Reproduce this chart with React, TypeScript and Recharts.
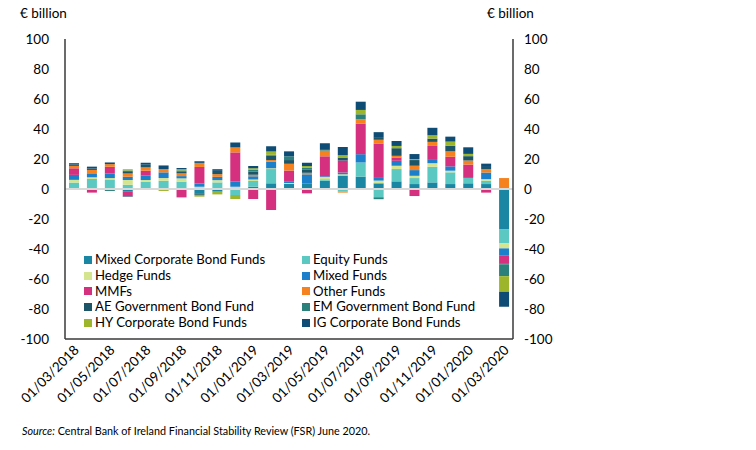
import { BarChart, Bar, Line, XAxis, YAxis, ReferenceLine } from "recharts";

const months = [
  "01/03/2018", "01/04/2018", "01/05/2018", "01/06/2018", "01/07/2018",
  "01/08/2018", "01/09/2018", "01/10/2018", "01/11/2018", "01/12/2018",
  "01/01/2019", "01/02/2019", "01/03/2019", "01/04/2019", "01/05/2019",
  "01/06/2019", "01/07/2019", "01/08/2019", "01/09/2019", "01/10/2019",
  "01/11/2019", "01/12/2019", "01/01/2020", "01/02/2020", "01/03/2020",
];

// € billion, monthly flows by fund type
const mixedCorporate = [0.5, 0, 0, -1.8, 0, 0, 0.5, -2.9, -1.8, 0.5, 1.5, 3.8, 3.5, 3.8, 5.5, 9, 8.2, 3.8, 5.1, 3.3, 4.4, 3.3, 3.8, 3.3, -26.7];
const equity = [3.8, 6.7, 6, 2.9, 4.9, 5.5, 4.4, 0, 4.4, -4, 3.8, 9.5, 0, 0, 1, -1.8, 9.5, -5.5, 8.2, 4, 10.4, 7.8, 3.6, 2.2, -9.6];
const hedge = [1.8, 1.1, 1.3, 3.1, 1.1, 1.8, 2.2, 1.5, 1.5, 1, 1, 0.5, 0.5, 0, 1.5, 0.8, 0, 1.8, 2.2, 1.5, 2.4, 1.1, 0, 1.1, -3.3];
const mixed = [3.3, 2.2, 3.1, 2.2, 2.9, 3.8, 1.5, 2.2, 2.2, 3.6, 2.2, 4.5, 0.8, 6, 0.5, 1.2, 5.5, 1.8, 3.3, 3.8, 2.2, 2.9, 0, 4.4, -4.9];
const mmfs = [4.4, -2.4, 4.4, -3.1, 3.3, 0, -5.6, 11, 0, 19.3, -6.7, -14, 7.5, -2.9, 13.3, 8, 20.4, 22.7, 2.2, -4.7, 9.3, 6.4, 8.9, -2.4, -5.1];
const other = [1.6, 2.7, 1.8, 2.2, 2.2, 2.2, 1.8, 2.7, 1.8, 3.3, 1, 1, 4.5, 1, 3.8, -0.6, 2.9, 2.7, 1.1, 2.9, 2.7, 3.6, 2.7, 2.2, 7.3];
const aeGov = [1, 1, 0, 1, 1.8, 0, 1, -1, 2.2, 0, 2.2, 3, 2.5, 2, 0, 2, 0, 1.8, 5.1, 3.8, 2.2, 3.8, 2.9, 1.5, -0.7];
const emGov = [0, 0, -1.3, 1, 0, 0, 1, 0, 0, 0, 1.2, 0.5, 2.5, 1.5, 0.5, 0, 3.3, -1.3, 0, 0, 0, 0, 0, 0, -7.8];
const hyCorporate = [0, 0, 0, 0.7, 0, -1.3, 0.8, -1.2, -1.8, -2.7, 1, 2.2, 0, 1, 0, 1.5, 2.9, 0, 1.5, 0.7, 2.2, 2.7, 1.5, 0, -10.4];
const igCorporate = [0.8, 1.2, 1.1, -0.3, 1.3, 2.4, 0.8, 1.1, 1.1, 3.3, 1.5, 3.5, 3.3, 2.2, 4.4, 5.5, 5.5, 3.3, 3.3, 3.3, 5, 3.3, 4.4, 2.2, -10];

const yTicks = [-100, -80, -60, -40, -20, 0, 20, 40, 60, 80, 100];

const series = [
  { key: "mixedCorporate", name: "Mixed Corporate Bond Funds", color: "#1a86a3", values: mixedCorporate },
  { key: "equity", name: "Equity Funds", color: "#5cc8c2", values: equity },
  { key: "hedge", name: "Hedge Funds", color: "#d5e48f", values: hedge },
  { key: "mixed", name: "Mixed Funds", color: "#1b7fcb", values: mixed },
  { key: "mmfs", name: "MMFs", color: "#d5307f", values: mmfs },
  { key: "other", name: "Other Funds", color: "#f5821f", values: other },
  { key: "aeGov", name: "AE Government Bond Fund", color: "#1d5568", values: aeGov },
  { key: "emGov", name: "EM Government Bond Fund", color: "#2b807c", values: emGov },
  { key: "hyCorporate", name: "HY Corporate Bond Funds", color: "#9cb52a", values: hyCorporate },
  { key: "igCorporate", name: "IG Corporate Bond Funds", color: "#0f4c75", values: igCorporate },
];

const data = months.map((month, i) => {
  const row: Record<string, string | number> = { month };
  series.forEach((s) => {
    row[s.key] = s.values[i];
  });
  return row;
});

const FONT = "Lato, 'Open Sans', sans-serif";
const FRAME = "#3a3a3a";

function MonthTick(props: any) {
  const { x, y, payload } = props;
  return (
    <g transform={`translate(${x + 3},${y + 1})`}>
      <text
        x={0}
        y={0}
        dy={4}
        textAnchor="end"
        transform="rotate(-45)"
        fontSize={13.5}
        fontFamily={FONT}
        fill="#000"
      >
        {payload.value}
      </text>
    </g>
  );
}

function FundLegend() {
  return (
    <div
      style={{
        position: "absolute",
        left: 84,
        top: 252,
        display: "grid",
        gridTemplateColumns: "218px 200px",
        fontFamily: FONT,
        fontSize: 13.2,
        color: "#000",
        lineHeight: "15.8px",
      }}
    >
      {series.map((s) => (
        <div key={s.key} style={{ display: "flex", alignItems: "center", whiteSpace: "nowrap" }}>
          <span
            style={{
              display: "inline-block",
              width: 8,
              height: 8,
              background: s.color,
              marginRight: 3,
            }}
          />
          {s.name}
        </div>
      ))}
    </div>
  );
}

export default function App() {
  return (
    <div style={{ position: "absolute", left: 0, top: 0, width: 756, height: 450, background: "#fff", fontFamily: FONT }}>
      <div style={{ position: "absolute", left: 20, top: 5, fontSize: 13.5 }}>€ billion</div>
      <div style={{ position: "absolute", left: 487, top: 5, fontSize: 13.5 }}>€ billion</div>
      <BarChart
        width={756}
        height={450}
        data={data}
        stackOffset="sign"
        barSize={10}
        margin={{ top: 39, right: 193, bottom: 41, left: 10 }}
      >
        <XAxis
          xAxisId="top"
          orientation="top"
          dataKey="month"
          height={0}
          tick={false}
          tickLine={false}
          axisLine={{ stroke: FRAME, strokeWidth: 1.5 }}
        />
        <XAxis
          dataKey="month"
          interval={1}
          height={70}
          tickLine={false}
          tickSize={0}
          tickMargin={8}
          axisLine={{ stroke: FRAME, strokeWidth: 1.5 }}
          tick={<MonthTick />}
        />
        <YAxis
          yAxisId="left"
          domain={[-100, 100]}
          ticks={yTicks}
          width={55}
          tickLine={false}
          tickSize={0}
          tickMargin={16}
          axisLine={{ stroke: FRAME, strokeWidth: 1.5 }}
          tick={{ fill: "#000", fontSize: 13.5, fontFamily: FONT }}
        />
        <YAxis
          yAxisId="right"
          orientation="right"
          domain={[-100, 100]}
          ticks={yTicks}
          width={50}
          tickLine={false}
          tickSize={0}
          tickMargin={11}
          axisLine={{ stroke: FRAME, strokeWidth: 1.5 }}
          tick={{ fill: "#000", fontSize: 13.5, fontFamily: FONT, textAnchor: "start" }}
        />
        <ReferenceLine yAxisId="left" y={0} stroke="#d9d9d9" strokeWidth={2} />
        {series.map((s) => (
          <Bar
            key={s.key}
            yAxisId="left"
            dataKey={s.key}
            name={s.name}
            stackId="flows"
            fill={s.color}
            isAnimationActive={false}
          />
        ))}
        {/* invisible series so the top and right axes are drawn as a frame */}
        <Line
          xAxisId="top"
          yAxisId="right"
          dataKey="other"
          stroke="none"
          dot={false}
          activeDot={false}
          legendType="none"
          isAnimationActive={false}
        />
      </BarChart>
      <FundLegend />
      <div style={{ position: "absolute", left: 22, top: 424, fontSize: 10.8, color: "#000" }}>
        <i>Source:</i> Central Bank of Ireland Financial Stability Review (FSR) June 2020.
      </div>
    </div>
  );
}
